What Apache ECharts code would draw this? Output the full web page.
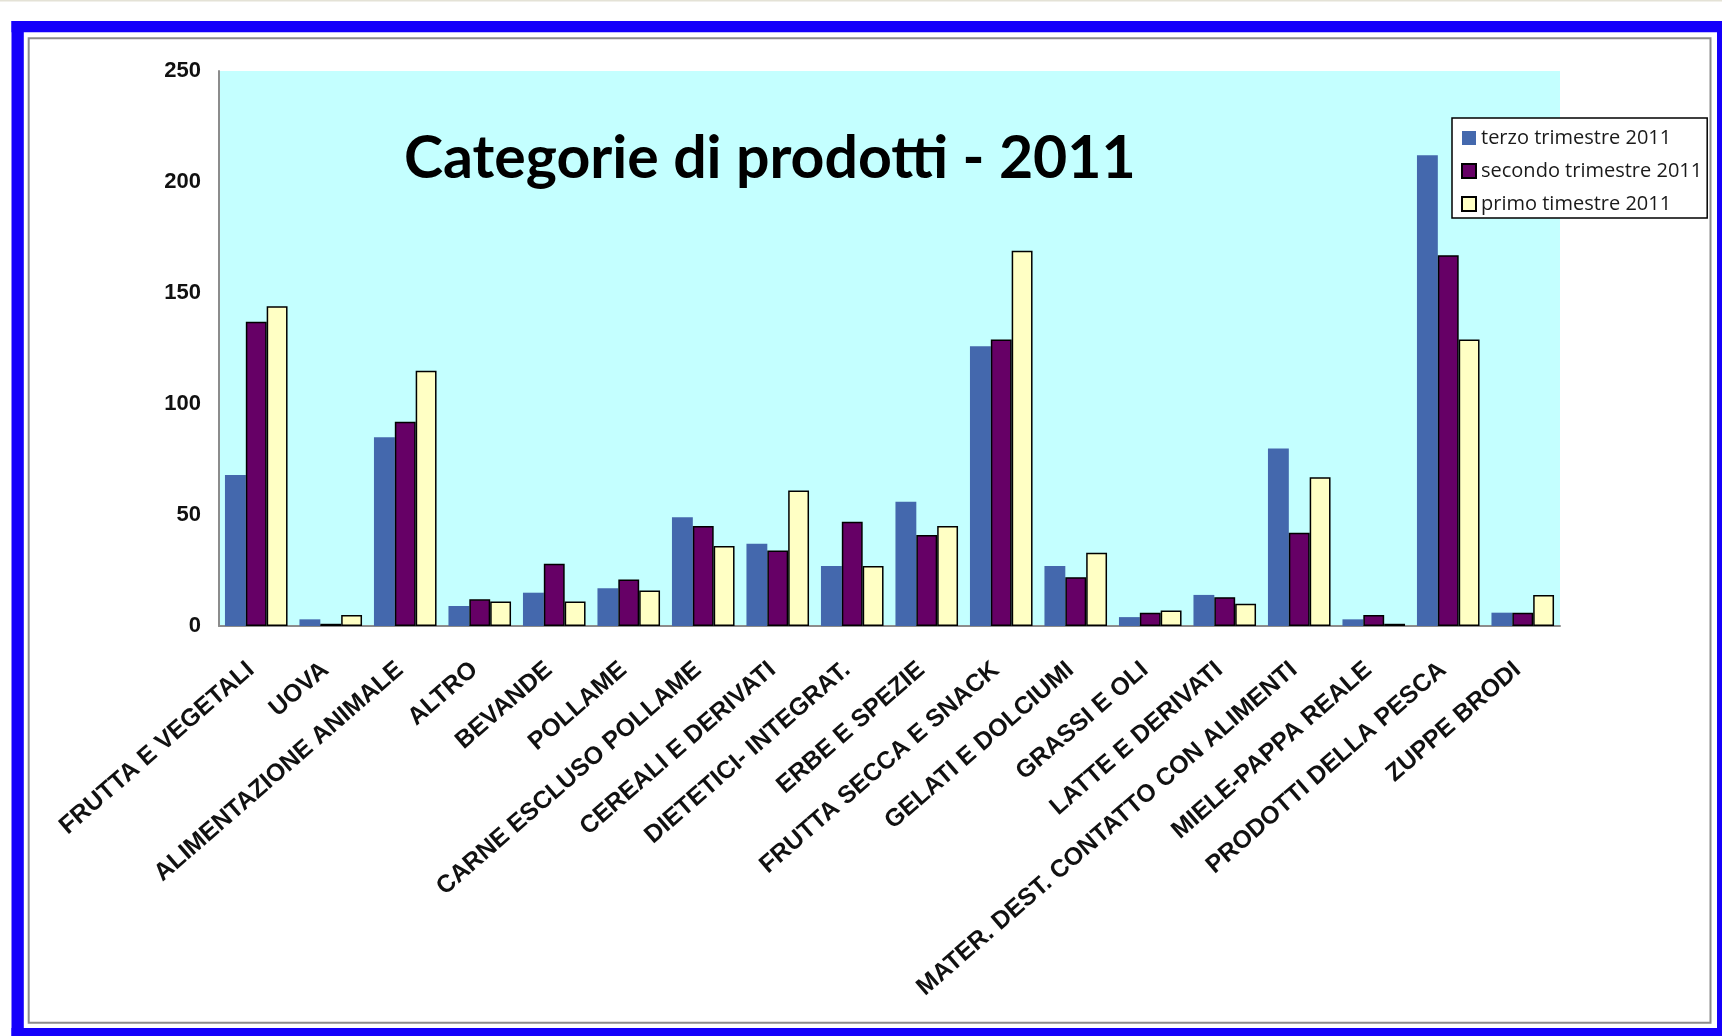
<!DOCTYPE html>
<html>
<head>
<meta charset="utf-8">
<title>Categorie di prodotti - 2011</title>
<script src="https://cdn.jsdelivr.net/npm/echarts@6.0.0/dist/echarts.min.js"></script>
<style>
  html, body { margin: 0; padding: 0; background: #ffffff; }
  #chart { width: 1722px; height: 1036px; }
</style>
</head>
<body>
<div id="chart"></div>
<script>
// Product categories on the x axis
const categories = [
  'FRUTTA E VEGETALI', 'UOVA', 'ALIMENTAZIONE ANIMALE', 'ALTRO', 'BEVANDE',
  'POLLAME', 'CARNE ESCLUSO POLLAME', 'CEREALI E DERIVATI', 'DIETETICI- INTEGRAT.',
  'ERBE E SPEZIE', 'FRUTTA SECCA E SNACK', 'GELATI E DOLCIUMI', 'GRASSI E OLI',
  'LATTE E DERIVATI', 'MATER. DEST. CONTATTO CON ALIMENTI', 'MIELE-PAPPA REALE',
  'PRODOTTI DELLA PESCA', 'ZUPPE BRODI'
];

// Series names as shown in the legend
const seriesNames = ['terzo trimestre 2011', 'secondo trimestre 2011', 'primo timestre 2011'];

// Counts per category, one array per quarter
const terzoTrimestre   = [68, 3, 85, 9, 15, 17, 49, 37, 27, 56, 126, 27, 4, 14, 80, 3, 212, 6];
const secondoTrimestre = [137, 1, 92, 12, 28, 21, 45, 34, 47, 41, 129, 22, 6, 13, 42, 5, 167, 6];
const primoTrimestre   = [144, 5, 115, 11, 11, 16, 36, 61, 27, 45, 169, 33, 7, 10, 67, 1, 129, 14];

// Value axis ticks
const yMin = 0;
const yMax = 250;
const yStep = 50;

const chart = echarts.init(document.getElementById('chart'), null, { renderer: 'canvas' });

const BLUE_FRAME = '#1500fb';
const labelFont = 'Liberation Sans, Arial, sans-serif';

const option = {
  animation: false,
  backgroundColor: '#ffffff',
  title: {
    text: 'Categorie di prodotti - 2011',
    left: 404,
    top: 129,
    padding: 0,
    textStyle: { fontFamily: 'Lato', fontWeight: 'bold', fontSize: 59, color: '#000000' }
  },
  legend: {
    orient: 'vertical',
    left: 1452,
    top: 118,
    icon: 'rect',
    itemWidth: 14,
    itemHeight: 14,
    itemGap: 13,
    padding: [10, 5, 4, 9],
    backgroundColor: '#ffffff',
    borderColor: '#000000',
    borderWidth: 1.5,
    borderRadius: 0,
    textStyle: { fontFamily: 'Open Sans', fontSize: 20, color: '#1a1a1a' },
    data: seriesNames
  },
  grid: {
    left: 219,
    top: 71,
    right: 162,
    bottom: 410,
    show: true,
    backgroundColor: '#c4ffff',
    borderWidth: 0,
    containLabel: false
  },
  xAxis: {
    type: 'category',
    data: categories,
    axisLine: { show: true, lineStyle: { color: '#8c8c8c', width: 2 } },
    axisTick: { show: false },
    splitLine: { show: false },
    axisLabel: {
      interval: 0,
      rotate: 41,
      margin: 36,
      padding: [0, 7, 0, 0],
      fontFamily: labelFont,
      fontWeight: 'bold',
      fontSize: 24.7,
      color: '#111111'
    }
  },
  yAxis: {
    type: 'value',
    min: yMin,
    max: yMax,
    interval: yStep,
    axisLine: { show: true, lineStyle: { color: '#8c8c8c', width: 2 } },
    axisTick: { show: false },
    splitLine: { show: false },
    axisLabel: {
      margin: 18,
      fontFamily: labelFont,
      fontWeight: 'bold',
      fontSize: 22,
      color: '#111111'
    }
  },
  series: [
    {
      name: seriesNames[0],
      type: 'bar',
      data: terzoTrimestre,
      barGap: '0%',
      barCategoryGap: '16%',
      itemStyle: { color: '#4468ad', borderWidth: 0 }
    },
    {
      name: seriesNames[1],
      type: 'bar',
      data: secondoTrimestre,
      barGap: '0%',
      barCategoryGap: '16%',
      itemStyle: { color: '#660066', borderColor: '#000000', borderWidth: 1.5 }
    },
    {
      name: seriesNames[2],
      type: 'bar',
      data: primoTrimestre,
      barGap: '0%',
      barCategoryGap: '16%',
      itemStyle: { color: '#ffffc4', borderColor: '#000000', borderWidth: 1.5 }
    }
  ],
  graphic: [
    // thin strip along the top edge of the page
    { type: 'rect', silent: true, shape: { x: 0, y: 0, width: 1722, height: 1.5 }, style: { fill: '#e4e2d6' } },
    // blue outer frame
    { type: 'rect', silent: true, shape: { x: 11.5, y: 21, width: 12.3, height: 1015 }, style: { fill: BLUE_FRAME } },
    { type: 'rect', silent: true, shape: { x: 11.5, y: 21, width: 1710.5, height: 11.3 }, style: { fill: BLUE_FRAME } },
    { type: 'rect', silent: true, shape: { x: 1717, y: 21, width: 5, height: 1015 }, style: { fill: BLUE_FRAME } },
    { type: 'rect', silent: true, shape: { x: 11.5, y: 1028, width: 1710.5, height: 8 }, style: { fill: BLUE_FRAME } },
    // grey inner frame
    { type: 'rect', silent: true, shape: { x: 28.7, y: 38.3, width: 1681.8, height: 984.4 },
      style: { fill: 'none', stroke: '#8c8c8c', lineWidth: 2 } }
  ]
};

chart.setOption(option);
</script>
</body>
</html>
